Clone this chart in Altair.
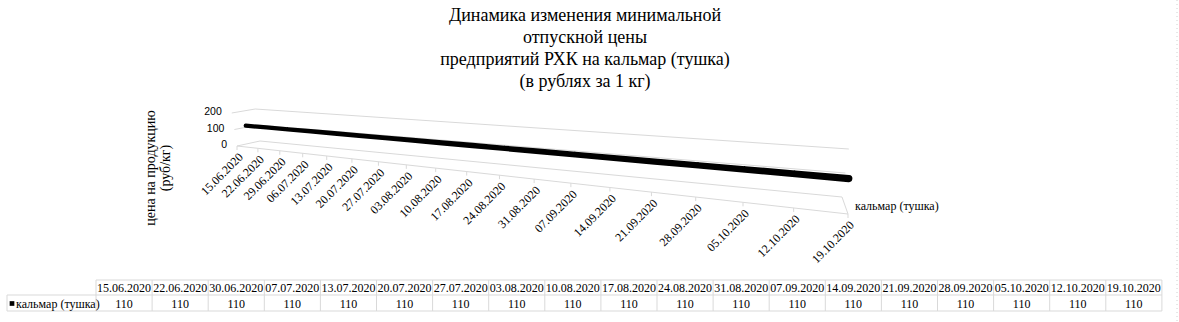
import altair as alt
import pandas as pd

# ---------------- data ----------------
axis_dates = ["15.06.2020", "22.06.2020", "29.06.2020", "06.07.2020", "13.07.2020",
              "20.07.2020", "27.07.2020", "03.08.2020", "10.08.2020", "17.08.2020",
              "24.08.2020", "31.08.2020", "07.09.2020", "14.09.2020", "21.09.2020",
              "28.09.2020", "05.10.2020", "12.10.2020", "19.10.2020"]
table_dates = ["15.06.2020", "22.06.2020", "30.06.2020", "07.07.2020", "13.07.2020",
               "20.07.2020", "27.07.2020", "03.08.2020", "10.08.2020", "17.08.2020",
               "24.08.2020", "31.08.2020", "07.09.2020", "14.09.2020", "21.09.2020",
               "28.09.2020", "05.10.2020", "12.10.2020", "19.10.2020"]
prices = [110, 110, 110, 110, 110, 110, 110, 110, 110, 110,
          110, 110, 110, 110, 110, 110, 110, 110, 110]
series_name = "кальмар (тушка)"
value_ticks = [0, 100, 200]
title_lines = ["Динамика изменения минимальной", "отпускной цены",
               "предприятий РХК на кальмар (тушка)", "(в рублях за 1 кг)"]
y_title_lines = ["цена на продукцию", "(руб/кг)"]

# ---------------- layout (pixels) ----------------
W, H = 1179, 322
VMAX = 200
B = 0.66                       # perspective strength along category axis
FX0, FX1, FY0, FY1 = 237, 848, 146, 214   # front floor edge
BX0, BX1, BY0, BY1 = 260, 842, 141, 197   # back floor edge
HF0, HF1, HB0, HB1 = 33, 50, 32, 48       # wall heights (front / back)
LEAN_C, LEAN_K = 500, 0.02
N = len(axis_dates) - 1
T0, CW = 96, 56.1              # table first date column, column width
TL = 7                          # table left edge
ROW_TOP, ROW_MID, ROW_BOT = 280, 295, 311
SERIF = "Liberation Serif"
SANS = "Liberation Sans"
GRID = "#d9d9d9"


def F(t):
    return f"(({t})/(1+{B}*(1-({t}))))"


def proj(t, d, v):
    f = F(t)
    xb = f"(({FX0}+{FX1 - FX0}*{f})*(1-({d}))+({BX0}+{BX1 - BX0}*{f})*({d}))"
    yb = f"(({FY0}+{FY1 - FY0}*{f})*(1-({d}))+({BY0}+{BY1 - BY0}*{f})*({d}))"
    h = f"(({HF0}+{HF1 - HF0}*{f})*(1-({d}))+({HB0}+{HB1 - HB0}*{f})*({d}))"
    x = f"{xb}+({xb}-{LEAN_C})*{LEAN_K}*({v})/{VMAX}"
    y = f"{yb}-({v})/{VMAX}*{h}"
    return x, y


xs = alt.Scale(domain=[0, W], nice=False, zero=False)
ys = alt.Scale(domain=[0, H], nice=False, zero=False, reverse=True)


def X(f):
    return alt.X(f, type="quantitative", scale=xs, axis=None)


def Y(f):
    return alt.Y(f, type="quantitative", scale=ys, axis=None)


def X2(f):
    return alt.X2(f)


def Y2(f):
    return alt.Y2(f)


cats = pd.DataFrame({"i": list(range(len(axis_dates))), "axis_date": axis_dates,
                     "table_date": table_dates, "price": prices})

# ---- gridlines / walls / floor ----
segs = []
for v in value_ticks:
    segs.append({"t0": 0, "d0": 0, "t1": 0, "d1": 1, "v": v})   # side wall
    segs.append({"t0": 0, "d0": 1, "t1": 1, "d1": 1, "v": v})   # back wall
segs.append({"t0": 0, "d0": 0, "t1": 1, "d1": 0, "v": 0})       # floor front
segs.append({"t0": 1, "d0": 0, "t1": 1, "d1": 1, "v": 0})       # floor right
segdf = pd.DataFrame(segs)
ax0, ay0 = proj("datum.t0", "datum.d0", "datum.v")
ax1, ay1 = proj("datum.t1", "datum.d1", "datum.v")
grid = alt.Chart(segdf).transform_calculate(
    x0=ax0, y0=ay0, x1=ax1, y1=ay1
).mark_rule(color=GRID, strokeWidth=1).encode(
    x=X("x0"), y=Y("y0"), x2=X2("x1"), y2=Y2("y1"))

# ---- category ticks on front floor edge ----
tx, ty = proj(f"datum.i/{N}", "0", "0")
ticks = alt.Chart(cats).transform_calculate(
    px=tx, py=ty
).transform_calculate(py2="datum.py+4").mark_rule(color=GRID).encode(
    x=X("px"), y=Y("py"), y2=Y2("py2"))

# ---- ribbon (series) ----
rx, ry = proj(f"datum.i/{N}", "0.5", "datum.price")
ribbon = alt.Chart(cats).transform_calculate(
    px=rx, py=ry, w=f"4.2+3*{F(f'datum.i/{N}')}"
).mark_trail(color="#000000").encode(
    x=X("px"), y=Y("py"), size=alt.Size("w:Q", scale=None, legend=None),
    order=alt.Order("i:Q"))

# ---- category labels ----
cat_labels = alt.Chart(cats).transform_calculate(
    px=tx, py=ty
).transform_calculate(lx="datum.px+4", ly="datum.py+9").mark_text(
    angle=315, align="right", baseline="middle", font=SERIF, fontSize=12,
    color="#000000"
).encode(x=X("lx"), y=Y("ly"), text="axis_date:N")

# ---- value labels ----
vdf = pd.DataFrame({"v": value_ticks})
vx, vy = proj("0", "0", "datum.v")
val_labels = alt.Chart(vdf).transform_calculate(
    px=vx, py=vy
).transform_calculate(lx="datum.px-10", ly="datum.py-1").mark_text(
    align="right", baseline="middle", font=SANS, fontSize=10.5, color="#000000"
).encode(x=X("lx"), y=Y("ly"), text="v:Q")

# ---- series (depth) axis label ----
sdf = pd.DataFrame({"name": [series_name]})
sx, sy = proj("1", "0.5", "0")
series_label = alt.Chart(sdf).transform_calculate(
    px=sx, py=sy
).transform_calculate(lx="datum.px+10").mark_text(
    align="left", baseline="middle", font=SERIF, fontSize=12, color="#000000"
).encode(x=X("lx"), y=Y("py"), text="name:N")

# ---- titles ----
title = alt.Chart(pd.DataFrame({"a": [0]})).mark_text(
    align="center", baseline="top", font=SERIF, fontSize=18, lineHeight=22,
    color="#000000"
).encode(x=alt.value(585), y=alt.value(7), text=alt.value(title_lines))

ytitle = alt.Chart(pd.DataFrame({"a": [0]})).mark_text(
    angle=270, align="center", baseline="middle", font=SERIF, fontSize=14,
    lineHeight=15, color="#000000"
).encode(x=alt.value(151), y=alt.value(168), text=alt.value(y_title_lines))

# ---- data table ----
hdr = alt.Chart(cats).transform_calculate(
    cx=f"{T0}+(datum.i+0.5)*{CW}", cy=f"{(ROW_TOP + ROW_MID) / 2 + 0.5}"
).mark_text(align="center", baseline="middle", font=SERIF, fontSize=12,
            color="#000000").encode(x=X("cx"), y=Y("cy"), text="table_date:N")
vals = alt.Chart(cats).transform_calculate(
    cx=f"{T0}+(datum.i+0.5)*{CW}", cy=f"{(ROW_MID + ROW_BOT) / 2 + 0.5}"
).mark_text(align="center", baseline="middle", font=SERIF, fontSize=12,
            color="#000000").encode(x=X("cx"), y=Y("cy"), text="price:Q")

ncol = len(table_dates)
hl = pd.DataFrame({
    "xa": [T0, TL, TL],
    "xb": [T0 + ncol * CW] * 3,
    "yy": [ROW_TOP, ROW_MID, ROW_BOT]})
hlines = alt.Chart(hl).mark_rule(color=GRID).encode(
    x=X("xa"), x2=X2("xb"), y=Y("yy"))
vl = pd.DataFrame({
    "xx": [TL] + [T0 + j * CW for j in range(ncol + 1)],
    "ya": [ROW_MID] + [ROW_TOP] * (ncol + 1),
    "yb": [ROW_BOT] * (ncol + 2)})
vlines = alt.Chart(vl).mark_rule(color=GRID).encode(
    x=X("xx"), y=Y("ya"), y2=Y2("yb"))

key_df = pd.DataFrame({"name": [series_name]})
key_sq = alt.Chart(key_df).mark_square(color="#000000", size=22, opacity=1).encode(
    x=alt.value(12), y=alt.value((ROW_MID + ROW_BOT) / 2 + 0.5))
key_txt = alt.Chart(key_df).mark_text(
    align="left", baseline="middle", font=SERIF, fontSize=12, color="#000000"
).encode(x=alt.value(16), y=alt.value((ROW_MID + ROW_BOT) / 2 + 0.5), text="name:N")

edge = alt.Chart(pd.DataFrame({"a": [0]})).mark_rule(
    color="#d0d0d0", strokeDash=[1, 3]
).encode(x=alt.value(1177), y=alt.value(0), y2=alt.value(H))

chart = alt.layer(
    grid, ticks, ribbon, cat_labels, val_labels, series_label, title, ytitle,
    hlines, vlines, hdr, vals, key_sq, key_txt, edge
).properties(
    width=W, height=H, padding=0, autosize=alt.AutoSizeParams(type="none"),
    background="#ffffff"
).configure(font=SERIF).configure_text(font=SERIF).configure_view(stroke=None)

chart.save("out.html", embed_options={"renderer": "svg", "actions": False})
